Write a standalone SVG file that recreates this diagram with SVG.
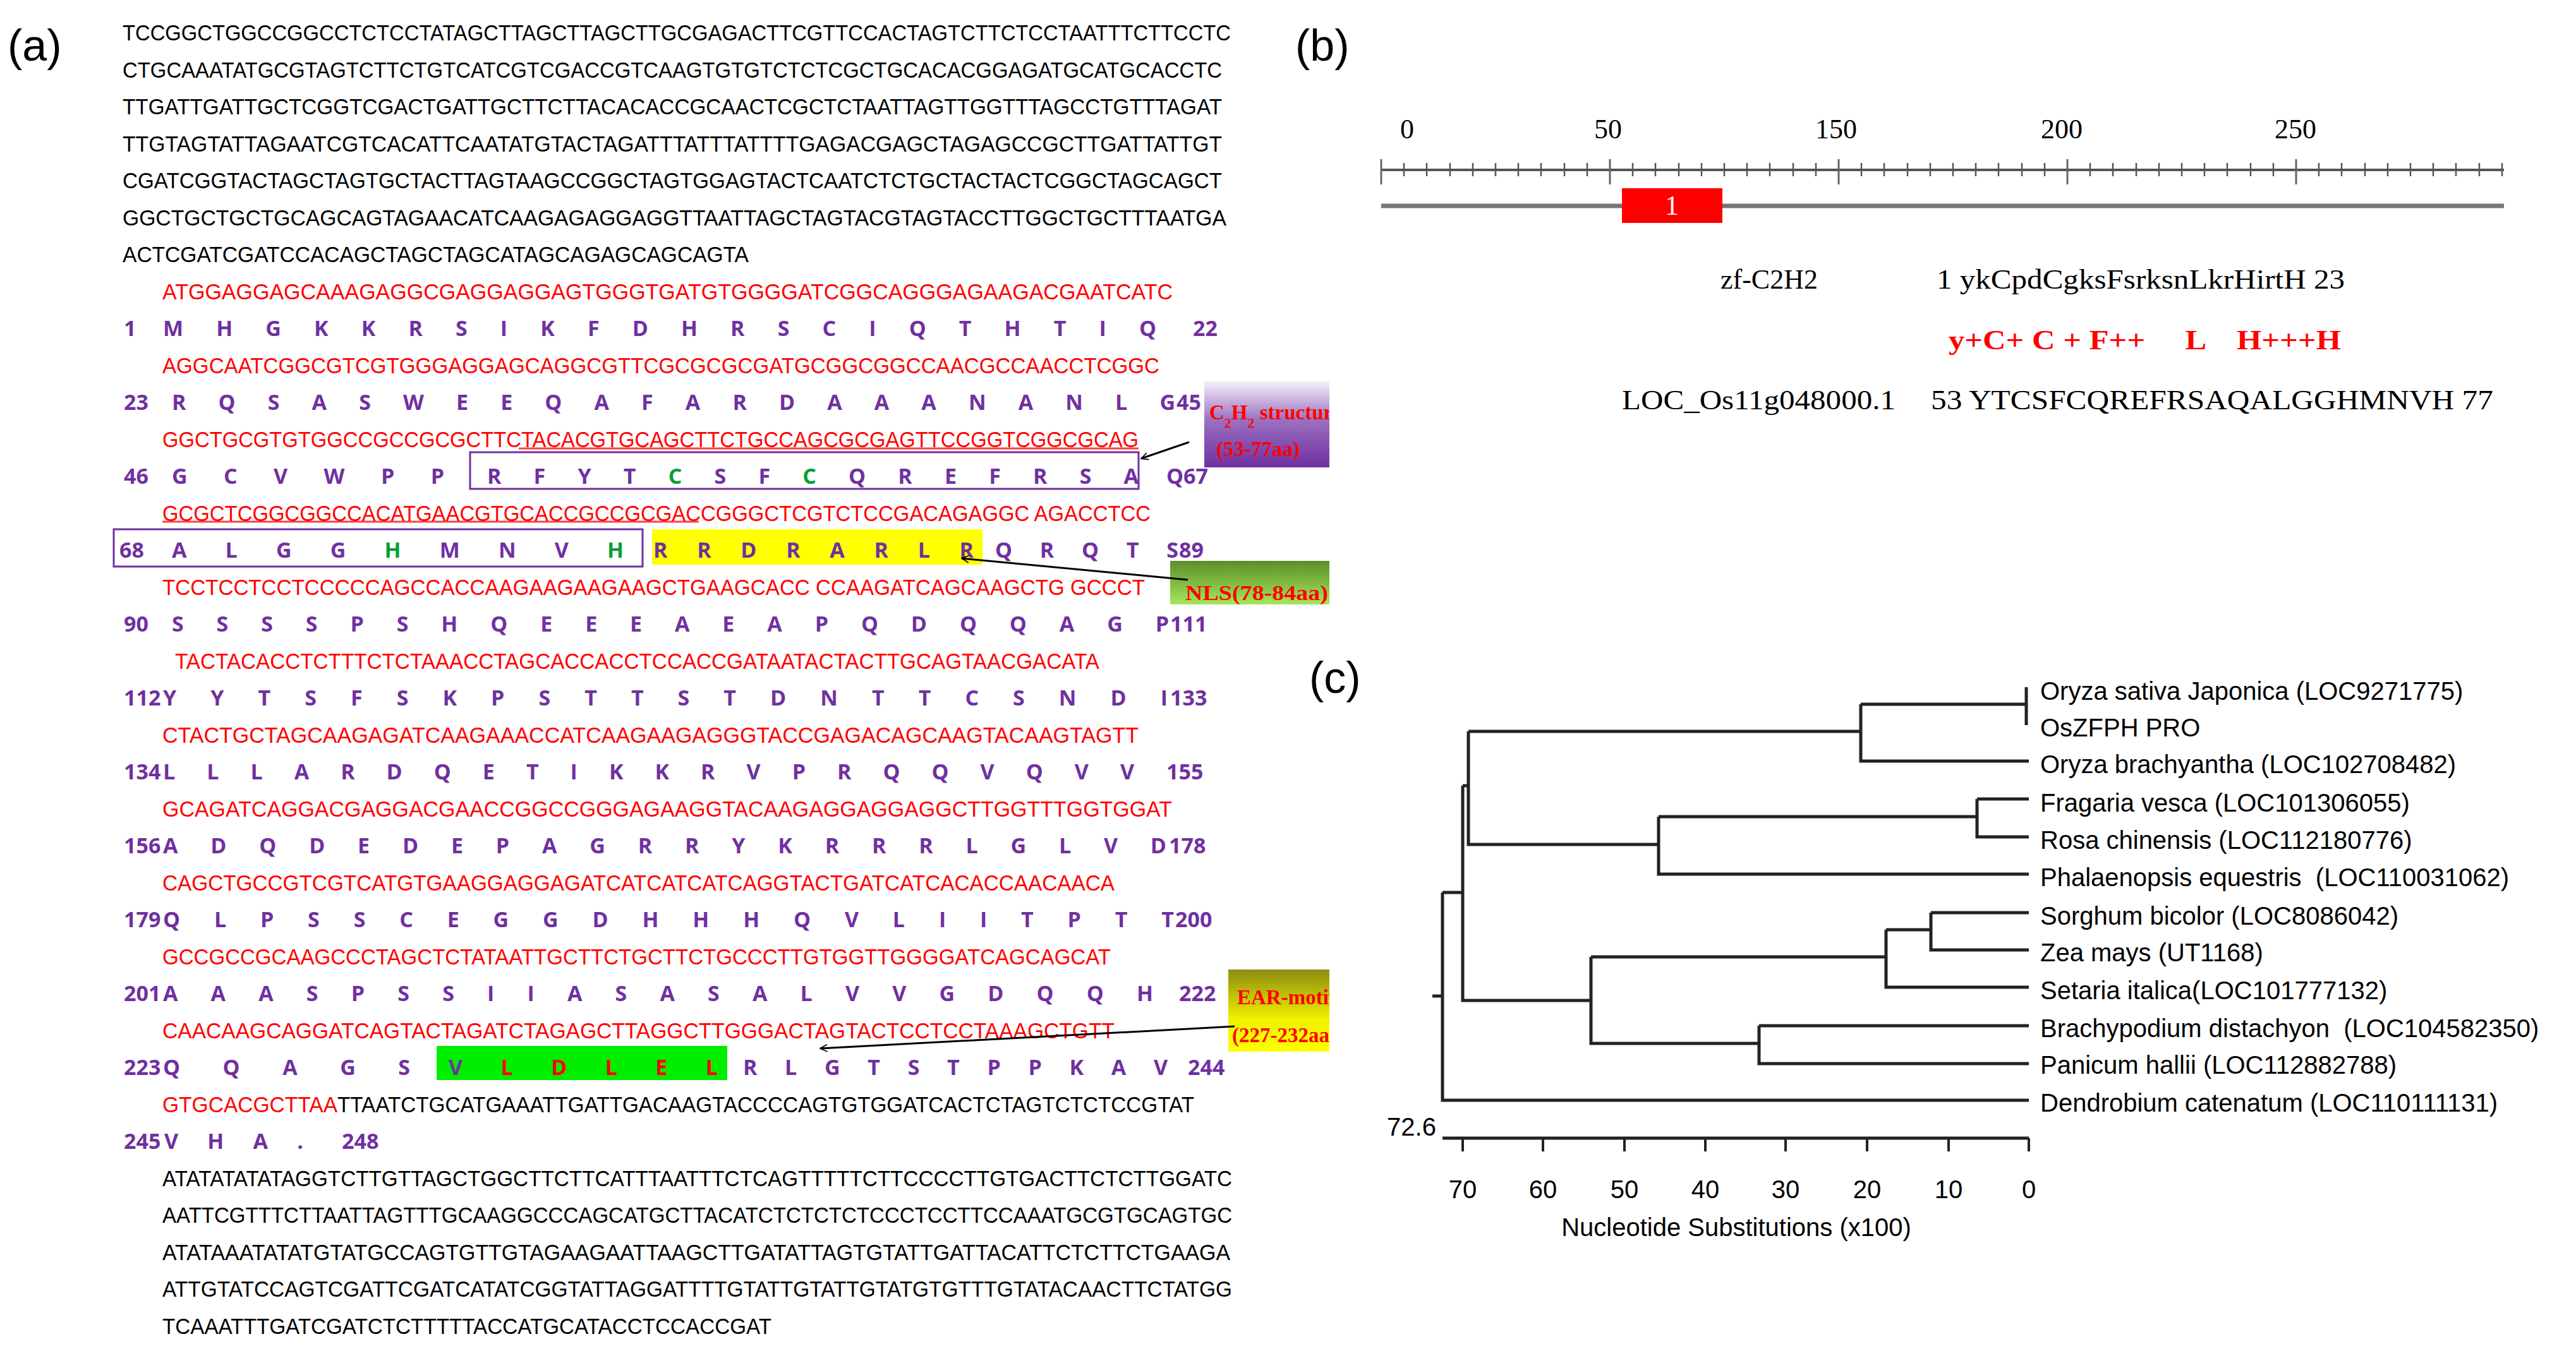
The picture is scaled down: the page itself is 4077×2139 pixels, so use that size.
<svg xmlns="http://www.w3.org/2000/svg" width="4077" height="2139" viewBox="0 0 4077 2139">
<style>
.dna{font-family:"Liberation Sans",Arial,sans-serif;font-size:35px;fill:#000}
.red{fill:#ff0000}
.aa{font-family:"Open Sans","Liberation Sans",sans-serif;font-size:34px;font-weight:bold;fill:#7030a0}
.g{fill:#00a030}
.r{fill:#ff0000}
.lab{font-family:"Liberation Sans",Arial,sans-serif;font-size:70px;fill:#000}
.ser{font-family:"Liberation Serif","Times New Roman",serif;font-size:44px;fill:#000}
.note{font-family:"Liberation Serif",serif;font-size:33px;font-weight:bold;fill:#ff0000}
.tree{font-family:"Liberation Sans",Arial,sans-serif;font-size:40px;fill:#000}
.br{stroke:#222;stroke-width:5;fill:none}
.arr{stroke:#000;stroke-width:3;fill:none;marker-end:url(#ah)}
</style>
<defs>
<marker id="ah" viewBox="0 0 20 20" refX="18" refY="10" markerWidth="14" markerHeight="14" orient="auto" markerUnits="userSpaceOnUse"><path d="M2,2 L18,10 L2,18" fill="none" stroke="#000" stroke-width="2.5"/></marker>
<linearGradient id="gp" x1="0" y1="0" x2="0" y2="1"><stop offset="0" stop-color="#f4f0f8"/><stop offset="0.45" stop-color="#9a70c0"/><stop offset="1" stop-color="#7030a0"/></linearGradient>
<linearGradient id="gg" x1="0" y1="0" x2="0" y2="1"><stop offset="0" stop-color="#5a8f2a"/><stop offset="1" stop-color="#a6e65a"/></linearGradient>
<linearGradient id="gy" x1="0" y1="0" x2="0" y2="1"><stop offset="0" stop-color="#8c8c10"/><stop offset="0.6" stop-color="#f0f000"/><stop offset="1" stop-color="#ffff00"/></linearGradient>
<clipPath id="cp"><rect x="1850" y="580" width="254" height="1200"/></clipPath>
</defs>
<rect width="4077" height="2139" fill="#fff"/>
<g id="panel-a">
<text class="lab" x="12" y="96">(a)</text>
<g id="seq-upstream">
<text class="dna" x="194" y="64" textLength="1754" lengthAdjust="spacingAndGlyphs">TCCGGCTGGCCGGCCTCTCCTATAGCTTAGCTTAGCTTGCGAGACTTCGTTCCACTAGTCTTCTCCTAATTTCTTCCTC</text>
<text class="dna" x="194" y="123" textLength="1740" lengthAdjust="spacingAndGlyphs">CTGCAAATATGCGTAGTCTTCTGTCATCGTCGACCGTCAAGTGTGTCTCTCGCTGCACACGGAGATGCATGCACCTC</text>
<text class="dna" x="194" y="181" textLength="1740" lengthAdjust="spacingAndGlyphs">TTGATTGATTGCTCGGTCGACTGATTGCTTCTTACACACCGCAACTCGCTCTAATTAGTTGGTTTAGCCTGTTTAGAT</text>
<text class="dna" x="194" y="240" textLength="1740" lengthAdjust="spacingAndGlyphs">TTGTAGTATTAGAATCGTCACATTCAATATGTACTAGATTTATTTATTTTGAGACGAGCTAGAGCCGCTTGATTATTGT</text>
<text class="dna" x="194" y="298" textLength="1740" lengthAdjust="spacingAndGlyphs">CGATCGGTACTAGCTAGTGCTACTTAGTAAGCCGGCTAGTGGAGTACTCAATCTCTGCTACTACTCGGCTAGCAGCT</text>
<text class="dna" x="194" y="357" textLength="1747" lengthAdjust="spacingAndGlyphs">GGCTGCTGCTGCAGCAGTAGAACATCAAGAGAGGAGGTTAATTAGCTAGTACGTAGTACCTTGGCTGCTTTAATGA</text>
<text class="dna" x="194" y="415" textLength="991" lengthAdjust="spacingAndGlyphs">ACTCGATCGATCCACAGCTAGCTAGCATAGCAGAGCAGCAGTA</text>
</g>
<g id="highlights">
<rect x="1032" y="838" width="523" height="56" fill="#ffff00"/>
<rect x="691" y="1656" width="460" height="54" fill="#00ee00"/>
<rect x="744" y="716" width="1058" height="58" fill="none" stroke="#7030a0" stroke-width="3"/>
<rect x="180" y="838" width="837" height="59" fill="none" stroke="#7030a0" stroke-width="3"/>
<line x1="821" y1="710" x2="1802" y2="710" stroke="#ff4040" stroke-width="3"/>
<line x1="257" y1="826" x2="1106" y2="826" stroke="#ff4040" stroke-width="3"/>
</g>
<g id="seq-cds">
<text class="dna red" x="257" y="474" textLength="1599" lengthAdjust="spacingAndGlyphs">ATGGAGGAGCAAAGAGGCGAGGAGGAGTGGGTGATGTGGGGATCGGCAGGGAGAAGACGAATCATC</text>
<text class="aa" x="196" y="532">1</text>
<text class="aa" x="258" y="532" textLength="1572" lengthAdjust="spacing">M H G K K R S I K F D H R S C I Q T H T I Q</text>
<text class="aa" x="1888" y="532">22</text>
<text class="dna red" x="257" y="591" textLength="1578" lengthAdjust="spacingAndGlyphs">AGGCAATCGGCGTCGTGGGAGGAGCAGGCGTTCGCGCGCGATGCGGCGGCCAACGCCAACCTCGGC</text>
<text class="aa" x="196" y="649">23</text>
<text class="aa" x="272" y="649" textLength="1588" lengthAdjust="spacing">R Q S A S W E E Q A F A R D A A A N A N L G</text>
<text class="aa" x="1862" y="649">45</text>
<text class="dna red" x="257" y="708" textLength="1545" lengthAdjust="spacingAndGlyphs">GGCTGCGTGTGGCCGCCGCGCTTCTACACGTGCAGCTTCTGCCAGCGCGAGTTCCGGTCGGCGCAG</text>
<text class="aa" x="196" y="766">46</text>
<text class="aa" x="272" y="766" textLength="431" lengthAdjust="spacing">G C V W P P</text>
<text class="aa" x="771" y="766" textLength="1031" lengthAdjust="spacing">R F Y T <tspan class="g">C</tspan> S F <tspan class="g">C</tspan> Q R E F R S A</text>
<text class="aa" x="1846" y="766">Q67</text>
<text class="dna red" x="257" y="825" textLength="1564" lengthAdjust="spacingAndGlyphs">GCGCTCGGCGGCCACATGAACGTGCACCGCCGCGACCGGGCTCGTCTCCGACAGAGGC AGACCTCC</text>
<text class="aa" x="189" y="883">68</text>
<text class="aa" x="272" y="883" textLength="715" lengthAdjust="spacing">A L G G <tspan class="g">H</tspan> M N V <tspan class="g">H</tspan></text>
<text class="aa" x="1034" y="883" textLength="507" lengthAdjust="spacing">R R D R A R L R</text>
<text class="aa" x="1575" y="883" textLength="290" lengthAdjust="spacing">Q R Q T S</text>
<text class="aa" x="1866" y="883">89</text>
<text class="dna red" x="257" y="942" textLength="1555" lengthAdjust="spacingAndGlyphs">TCCTCCTCCTCCCCCAGCCACCAAGAAGAAGAAGCTGAAGCACC CCAAGATCAGCAAGCTG GCCCT</text>
<text class="aa" x="196" y="1000">90</text>
<text class="aa" x="272" y="1000" textLength="1578" lengthAdjust="spacing">S S S S P S H Q E E E A E A P Q D Q Q A G P</text>
<text class="aa" x="1852" y="1000">111</text>
<text class="dna red" x="277" y="1059" textLength="1463" lengthAdjust="spacingAndGlyphs">TACTACACCTCTTTCTCTAAACCTAGCACCACCTCCACCGATAATACTACTTGCAGTAACGACATA</text>
<text class="aa" x="196" y="1117">112</text>
<text class="aa" x="258" y="1117" textLength="1590" lengthAdjust="spacing">Y Y T S F S K P S T T S T D N T T C S N D I</text>
<text class="aa" x="1852" y="1117">133</text>
<text class="dna red" x="257" y="1176" textLength="1545" lengthAdjust="spacingAndGlyphs">CTACTGCTAGCAAGAGATCAAGAAACCATCAAGAAGAGGGTACCGAGACAGCAAGTACAAGTAGTT</text>
<text class="aa" x="196" y="1234">134</text>
<text class="aa" x="258" y="1234" textLength="1537" lengthAdjust="spacing">L L L A R D Q E T I K K R V P R Q Q V Q V V</text>
<text class="aa" x="1846" y="1234">155</text>
<text class="dna red" x="257" y="1293" textLength="1598" lengthAdjust="spacingAndGlyphs">GCAGATCAGGACGAGGACGAACCGGCCGGGAGAAGGTACAAGAGGAGGAGGCTTGGTTTGGTGGAT</text>
<text class="aa" x="196" y="1351">156</text>
<text class="aa" x="258" y="1351" textLength="1588" lengthAdjust="spacing">A D Q D E D E P A G R R Y K R R R L G L V D</text>
<text class="aa" x="1850" y="1351">178</text>
<text class="dna red" x="257" y="1410" textLength="1507" lengthAdjust="spacingAndGlyphs">CAGCTGCCGTCGTCATGTGAAGGAGGAGATCATCATCATCAGGTACTGATCATCACACCAACAACA</text>
<text class="aa" x="196" y="1468">179</text>
<text class="aa" x="258" y="1468" textLength="1600" lengthAdjust="spacing">Q L P S S C E G G D H H H Q V L I I T P T T</text>
<text class="aa" x="1860" y="1468">200</text>
<text class="dna red" x="257" y="1527" textLength="1501" lengthAdjust="spacingAndGlyphs">GCCGCCGCAAGCCCTAGCTCTATAATTGCTTCTGCTTCTGCCCTTGTGGTTGGGGATCAGCAGCAT</text>
<text class="aa" x="196" y="1585">201</text>
<text class="aa" x="258" y="1585" textLength="1567" lengthAdjust="spacing">A A A S P S S I I A S A S A L V V G D Q Q H</text>
<text class="aa" x="1866" y="1585">222</text>
<text class="dna red" x="257" y="1644" textLength="1507" lengthAdjust="spacingAndGlyphs">CAACAAGCAGGATCAGTACTAGATCTAGAGCTTAGGCTTGGGACTAGTACTCCTCCTAAAGCTGTT</text>
<text class="aa" x="196" y="1702">223</text>
<text class="aa" x="258" y="1702" textLength="391" lengthAdjust="spacing">Q Q A G S</text>
<text class="aa" x="710" y="1702" textLength="426" lengthAdjust="spacing">V <tspan class="r">L D L E L</tspan></text>
<text class="aa" x="1176" y="1702" textLength="672" lengthAdjust="spacing">R L G T S T P P K A V</text>
<text class="aa" x="1880" y="1702">244</text>
<text class="dna red" x="257" y="1761" textLength="277" lengthAdjust="spacingAndGlyphs">GTGCACGCTTAA</text>
<text class="dna" x="534" y="1761" textLength="1356" lengthAdjust="spacingAndGlyphs">TTAATCTGCATGAAATTGATTGACAAGTACCCCAGTGTGGATCACTCTAGTCTCTCCGTAT</text>
<text class="aa" x="196" y="1819">245</text>
<text class="aa" x="260" y="1819" textLength="220" lengthAdjust="spacing">V H A .</text>
<text class="aa" x="541" y="1819">248</text>
</g>
<g id="seq-downstream">
<text class="dna" x="257" y="1878" textLength="1693" lengthAdjust="spacingAndGlyphs">ATATATATATAGGTCTTGTTAGCTGGCTTCTTCATTTAATTTCTCAGTTTTTCTTCCCCTTGTGACTTCTCTTGGATC</text>
<text class="dna" x="257" y="1936" textLength="1693" lengthAdjust="spacingAndGlyphs">AATTCGTTTCTTAATTAGTTTGCAAGGCCCAGCATGCTTACATCTCTCTCTCCCTCCTTCCAAATGCGTGCAGTGC</text>
<text class="dna" x="257" y="1995" textLength="1690" lengthAdjust="spacingAndGlyphs">ATATAAATATATGTATGCCAGTGTTGTAGAAGAATTAAGCTTGATATTAGTGTATTGATTACATTCTCTTCTGAAGA</text>
<text class="dna" x="257" y="2053" textLength="1693" lengthAdjust="spacingAndGlyphs">ATTGTATCCAGTCGATTCGATCATATCGGTATTAGGATTTTGTATTGTATTGTATGTGTTTGTATACAACTTCTATGG</text>
<text class="dna" x="257" y="2112" textLength="964" lengthAdjust="spacingAndGlyphs">TCAAATTTGATCGATCTCTTTTTACCATGCATACCTCCACCGAT</text>
</g>
<g id="note-c2h2">
<rect x="1906" y="604" width="198" height="136" fill="url(#gp)"/>
<text class="note" x="1914" y="664" clip-path="url(#cp)">C<tspan font-size="22" baseline-shift="sub">2</tspan>H<tspan font-size="22" baseline-shift="sub">2</tspan> structure</text>
<text class="note" x="1925" y="722" clip-path="url(#cp)">(53-77aa)</text>
</g>
<g id="note-nls">
<rect x="1852" y="888" width="252" height="69" fill="url(#gg)"/>
<text class="note" x="1876" y="950" clip-path="url(#cp)" textLength="226" lengthAdjust="spacingAndGlyphs">NLS(78-84aa)</text>
</g>
<g id="note-ear">
<rect x="1944" y="1535" width="160" height="130" fill="url(#gy)"/>
<text class="note" x="1958" y="1590" clip-path="url(#cp)">EAR-motif</text>
<text class="note" x="1950" y="1650" clip-path="url(#cp)">(227-232aa)</text>
</g>
<g id="connectors-a">
<line class="arr" x1="1882" y1="700" x2="1806" y2="726"/>
<line class="arr" x1="1880" y1="918" x2="1522" y2="884"/>
<line class="arr" x1="1954" y1="1625" x2="1298" y2="1660"/>
</g>
</g>
<g id="panel-b">
<text class="lab" x="2050" y="96">(b)</text>
<g id="ruler">
<text class="ser" x="2227" y="219" text-anchor="middle">0</text>
<text class="ser" x="2545" y="219" text-anchor="middle">50</text>
<text class="ser" x="2906" y="219" text-anchor="middle">150</text>
<text class="ser" x="3263" y="219" text-anchor="middle">200</text>
<text class="ser" x="3633" y="219" text-anchor="middle">250</text>
<line x1="2186" y1="269" x2="3963" y2="269" stroke="#555" stroke-width="4"/>
<path d="M2186,252V292M2548,252V292M2910,252V292M3272,252V292M3634,252V292" stroke="#666" stroke-width="3"/>
<path d="M2222,258V279M2258,258V279M2295,258V279M2331,258V279M2367,258V279M2403,258V279M2439,258V279M2476,258V279M2512,258V279M2584,258V279M2620,258V279M2657,258V279M2693,258V279M2729,258V279M2765,258V279M2801,258V279M2838,258V279M2874,258V279M2946,258V279M2982,258V279M3019,258V279M3055,258V279M3091,258V279M3127,258V279M3163,258V279M3200,258V279M3236,258V279M3308,258V279M3344,258V279M3381,258V279M3417,258V279M3453,258V279M3489,258V279M3525,258V279M3562,258V279M3598,258V279M3670,258V279M3706,258V279M3743,258V279M3779,258V279M3815,258V279M3851,258V279M3887,258V279M3924,258V279M3960,258V279" stroke="#555" stroke-width="2.5"/>
</g>
<g id="domain">
<line x1="2186" y1="326" x2="3963" y2="326" stroke="#777" stroke-width="7"/>
<rect x="2567" y="298" width="159" height="55" fill="#ff0000"/>
<text class="ser" x="2646" y="340" text-anchor="middle" style="fill:#fff">1</text>
</g>
<g id="alignment">
<text class="ser" x="2800" y="457" text-anchor="middle">zf-C2H2</text>
<text class="ser" x="3065" y="457" textLength="646" lengthAdjust="spacingAndGlyphs">1 ykCpdCgksFsrksnLkrHirtH 23</text>
<text class="ser" x="3084" y="553" textLength="621" lengthAdjust="spacingAndGlyphs" style="fill:#ff0000;font-weight:bold" xml:space="preserve">y+C+ C + F++     L    H+++H</text>
<text class="ser" x="2567" y="648" textLength="433" lengthAdjust="spacingAndGlyphs">LOC_Os11g048000.1</text>
<text class="ser" x="3056" y="648" textLength="890" lengthAdjust="spacingAndGlyphs">53 YTCSFCQREFRSAQALGGHMNVH 77</text>
</g>
</g>
<g id="panel-c">
<text class="lab" x="2072" y="1097">(c)</text>
<g id="tree-connectors">
<path class="br" d="M3207,1088V1148M2945,1115H3207M2945,1115V1205H3211M2324,1158H2945M2324,1158V1337H2625M3129,1265H3211M3129,1265V1325H3211M2625,1293H3129M2625,1293V1384H3211M2315,1244H2324M2315,1244V1584H2518M3056,1445H3211M3056,1445V1504H3211M2985,1472H3056M2985,1472V1563H3211M2784,1624H3211M2784,1624V1684H3211M2518,1515H2985M2518,1515V1652H2784M2283,1413H2315M2283,1413V1742H3211M2267,1577H2283"/>
</g>
<g id="leaves">
<text class="tree" x="3229" y="1108">Oryza sativa Japonica (LOC9271775)</text>
<text class="tree" x="3229" y="1166">OsZFPH PRO</text>
<text class="tree" x="3229" y="1224">Oryza brachyantha (LOC102708482)</text>
<text class="tree" x="3229" y="1285">Fragaria vesca (LOC101306055)</text>
<text class="tree" x="3229" y="1344">Rosa chinensis (LOC112180776)</text>
<text class="tree" x="3229" y="1403" xml:space="preserve">Phalaenopsis equestris  (LOC110031062)</text>
<text class="tree" x="3229" y="1464">Sorghum bicolor (LOC8086042)</text>
<text class="tree" x="3229" y="1522">Zea mays (UT1168)</text>
<text class="tree" x="3229" y="1582">Setaria italica(LOC101777132)</text>
<text class="tree" x="3229" y="1642" xml:space="preserve">Brachypodium distachyon  (LOC104582350)</text>
<text class="tree" x="3229" y="1700">Panicum hallii (LOC112882788)</text>
<text class="tree" x="3229" y="1760">Dendrobium catenatum (LOC110111131)</text>
</g>
<g id="axis">
<line x1="2283" y1="1802" x2="3211" y2="1802" stroke="#222" stroke-width="5"/>
<path d="M2315,1802V1823M2442,1802V1823M2571,1802V1823M2699,1802V1823M2826,1802V1823M2955,1802V1823M3084,1802V1823M3211,1802V1823" stroke="#222" stroke-width="4"/>
<text class="tree" x="2234" y="1798" text-anchor="middle">72.6</text>
<g text-anchor="middle">
<text class="tree" x="2315" y="1897">70</text><text class="tree" x="2442" y="1897">60</text><text class="tree" x="2571" y="1897">50</text><text class="tree" x="2699" y="1897">40</text><text class="tree" x="2826" y="1897">30</text><text class="tree" x="2955" y="1897">20</text><text class="tree" x="3084" y="1897">10</text><text class="tree" x="3211" y="1897">0</text>
</g>
<text class="tree" x="2748" y="1957" text-anchor="middle">Nucleotide Substitutions (x100)</text>
</g>
</g>
</svg>
